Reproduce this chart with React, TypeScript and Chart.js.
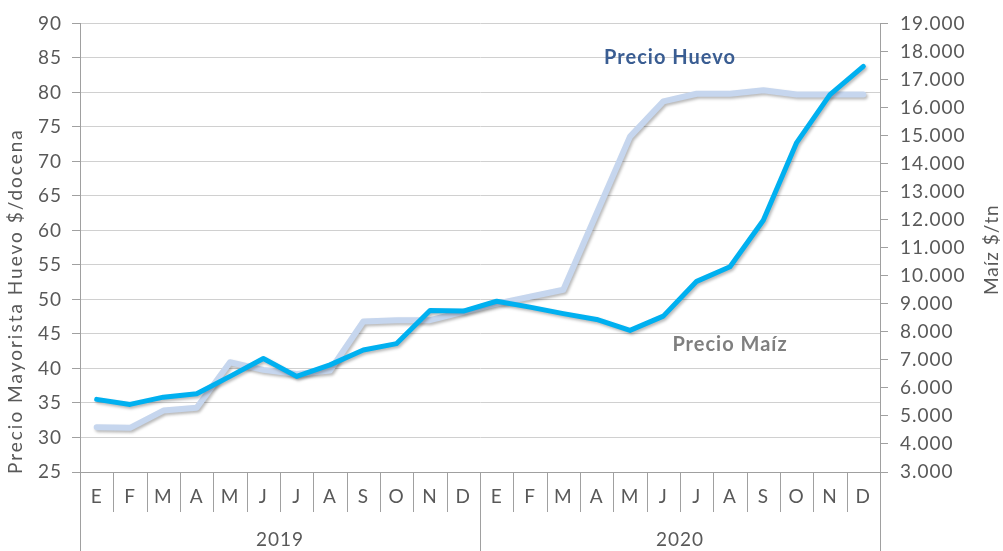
import React, { useEffect, useRef } from "react";
import { Chart, registerables } from "chart.js";

Chart.register(...registerables);

// ---- data ----
const months = ["E", "F", "M", "A", "M", "J", "J", "A", "S", "O", "N", "D", "E", "F", "M", "A", "M", "J", "J", "A", "S", "O", "N", "D"];
const years = ["2019", "2020"];
const MONTHS_PER_YEAR = 12;

// Precio Mayorista Huevo $/docena (left axis)
const huevo = [31.5, 31.4, 33.9, 34.3, 40.9, 39.8, 39.2, 39.7, 46.8, 47.0, 47.0, 48.2, 49.4, 50.4, 51.4, 62.5, 73.6, 78.7, 79.8, 79.8, 80.3, 79.7, 79.7, 79.7];
// Maíz $/tn (right axis)
const maiz = [5590, 5410, 5670, 5790, 6410, 7050, 6410, 6820, 7350, 7580, 8760, 8740, 9090, 8880, 8650, 8440, 8050, 8560, 9800, 10320, 11980, 14750, 16460, 17470];

const leftMin = 25;
const leftMax = 90;
const leftStep = 5;
const rightMin = 3000;
const rightMax = 19000;
const rightStep = 1000;

const leftTitle = "Precio Mayorista Huevo $/docena";
const rightTitle = "Maíz $/tn";
const huevoLabel = { text: "Precio Huevo", x: 17.2, y: 85.0 };
const maizLabel = { text: "Precio Maíz", x: 19.0, y: 43.4 };

const FONT = "Lato";
const TEXT_GRAY = "#595959";
const AXIS_GRAY = "#a0a0a0";

function fmtThousands(v: number): string {
  const s = Math.round(v).toString();
  return s.replace(/\B(?=(\d{3})+(?!\d))/g, ".");
}

const decoPlugin = {
  id: "deco",
  beforeDraw(chart: any) {
    (chart.ctx as any).letterSpacing = "1px";
  },
  beforeDatasetDraw(chart: any) {
    const ctx = chart.ctx;
    ctx.save();
    ctx.shadowColor = "rgba(0,0,0,0.28)";
    ctx.shadowBlur = 3;
    ctx.shadowOffsetX = 1.5;
    ctx.shadowOffsetY = 2;
  },
  afterDatasetDraw(chart: any) {
    chart.ctx.restore();
  },
  afterDraw(chart: any) {
    const { ctx, chartArea } = chart;
    const x = chart.scales.x;
    const y = chart.scales.y;
    ctx.save();
    ctx.strokeStyle = AXIS_GRAY;
    ctx.lineWidth = 1;
    // month separators and year boundary lines
    for (let i = 0; i <= months.length; i++) {
      const px = Math.round(x.getPixelForValue(i - 0.5)) + 0.5;
      const isYear = i % MONTHS_PER_YEAR === 0;
      ctx.beginPath();
      ctx.moveTo(px, chartArea.bottom);
      ctx.lineTo(px, isYear ? chart.height : chartArea.bottom + 40);
      ctx.stroke();
    }
    // year labels
    ctx.fillStyle = TEXT_GRAY;
    ctx.font = `19px ${FONT}`;
    ctx.letterSpacing = "1px";
    ctx.textAlign = "center";
    ctx.textBaseline = "middle";
    years.forEach((yr, k) => {
      const cx = x.getPixelForValue(k * MONTHS_PER_YEAR + (MONTHS_PER_YEAR - 1) / 2);
      ctx.fillText(yr, cx, 540);
    });
    // left title
    ctx.save();
    ctx.letterSpacing = "2px";
    ctx.translate(16, chartArea.bottom + 2);
    ctx.rotate(-Math.PI / 2);
    ctx.textAlign = "left";
    ctx.textBaseline = "middle";
    ctx.fillText(leftTitle, 0, 0);
    ctx.restore();
    // right title
    ctx.save();
    ctx.letterSpacing = "1px";
    ctx.translate(992, (chartArea.top + chartArea.bottom) / 2 + 2);
    ctx.rotate(-Math.PI / 2);
    ctx.textAlign = "center";
    ctx.textBaseline = "middle";
    ctx.fillText(rightTitle, 0, 0);
    ctx.restore();
    // series annotations
    ctx.font = `bold 20px ${FONT}`;
    ctx.letterSpacing = "1px";
    ctx.fillStyle = "#3a5d92";
    ctx.fillText(huevoLabel.text, x.getPixelForValue(huevoLabel.x), y.getPixelForValue(huevoLabel.y));
    ctx.fillStyle = "#7f7f7f";
    ctx.fillText(maizLabel.text, x.getPixelForValue(maizLabel.x), y.getPixelForValue(maizLabel.y));
    ctx.restore();
  },
};

export default function App() {
  const ref = useRef<HTMLCanvasElement | null>(null);
  useEffect(() => {
    if (!ref.current) return;
    const chart = new Chart(ref.current, {
      type: "line",
      data: {
        labels: months,
        datasets: [
          {
            label: "Precio Maíz",
            data: maiz,
            yAxisID: "y1",
            borderColor: "#00b0f0",
            borderWidth: 5,
            pointRadius: 0,
            tension: 0,
            borderCapStyle: "round",
            borderJoinStyle: "round",
            order: 0,
          },
          {
            label: "Precio Huevo",
            data: huevo,
            yAxisID: "y",
            borderColor: "#c6d6ee",
            borderWidth: 6,
            pointRadius: 0,
            tension: 0,
            borderCapStyle: "round",
            borderJoinStyle: "round",
            order: 1,
          },
        ],
      },
      options: {
        animation: false,
        responsive: false,
        devicePixelRatio: 1,
        layout: { padding: { top: 21, left: 0, right: 0, bottom: 0 } },
        plugins: { legend: { display: false }, tooltip: { enabled: false } },
        scales: {
          x: {
            type: "category",
            offset: true,
            grid: {
              display: false,
              drawOnChartArea: false,
              drawTicks: true,
              tickLength: 40,
            },
            border: { display: true, color: AXIS_GRAY, width: 1 },
            ticks: {
              autoSkip: false,
              maxRotation: 0,
              padding: -27,
              color: TEXT_GRAY,
              font: { family: FONT, size: 19 },
            },
            afterFit: (s: any) => {
              s.height = 79;
            },
          },
          y: {
            position: "left",
            min: leftMin,
            max: leftMax,
            grid: { color: "#d0d0d0", lineWidth: 1, tickLength: 8, tickColor: AXIS_GRAY },
            border: { color: AXIS_GRAY, width: 1 },
            ticks: {
              stepSize: leftStep,
              padding: 10,
              color: TEXT_GRAY,
              font: { family: FONT, size: 19 },
            },
            afterFit: (s: any) => {
              s.width = 80;
            },
          },
          y1: {
            position: "right",
            min: rightMin,
            max: rightMax,
            grid: { drawOnChartArea: false, tickLength: 8, tickColor: AXIS_GRAY },
            border: { color: AXIS_GRAY, width: 1 },
            ticks: {
              stepSize: rightStep,
              padding: 12,
              color: TEXT_GRAY,
              font: { family: FONT, size: 19 },
              callback: (v: any) => fmtThousands(Number(v)),
            },
            afterFit: (s: any) => {
              s.width = 123;
            },
          },
        },
      },
      plugins: [decoPlugin],
    } as any);
    return () => chart.destroy();
  }, []);
  return (
    <div style={{ position: "fixed", left: 0, top: 0, width: 1003, height: 551, background: "#fff" }}>
      <canvas ref={ref} width={1003} height={551} style={{ display: "block" }} />
    </div>
  );
}
